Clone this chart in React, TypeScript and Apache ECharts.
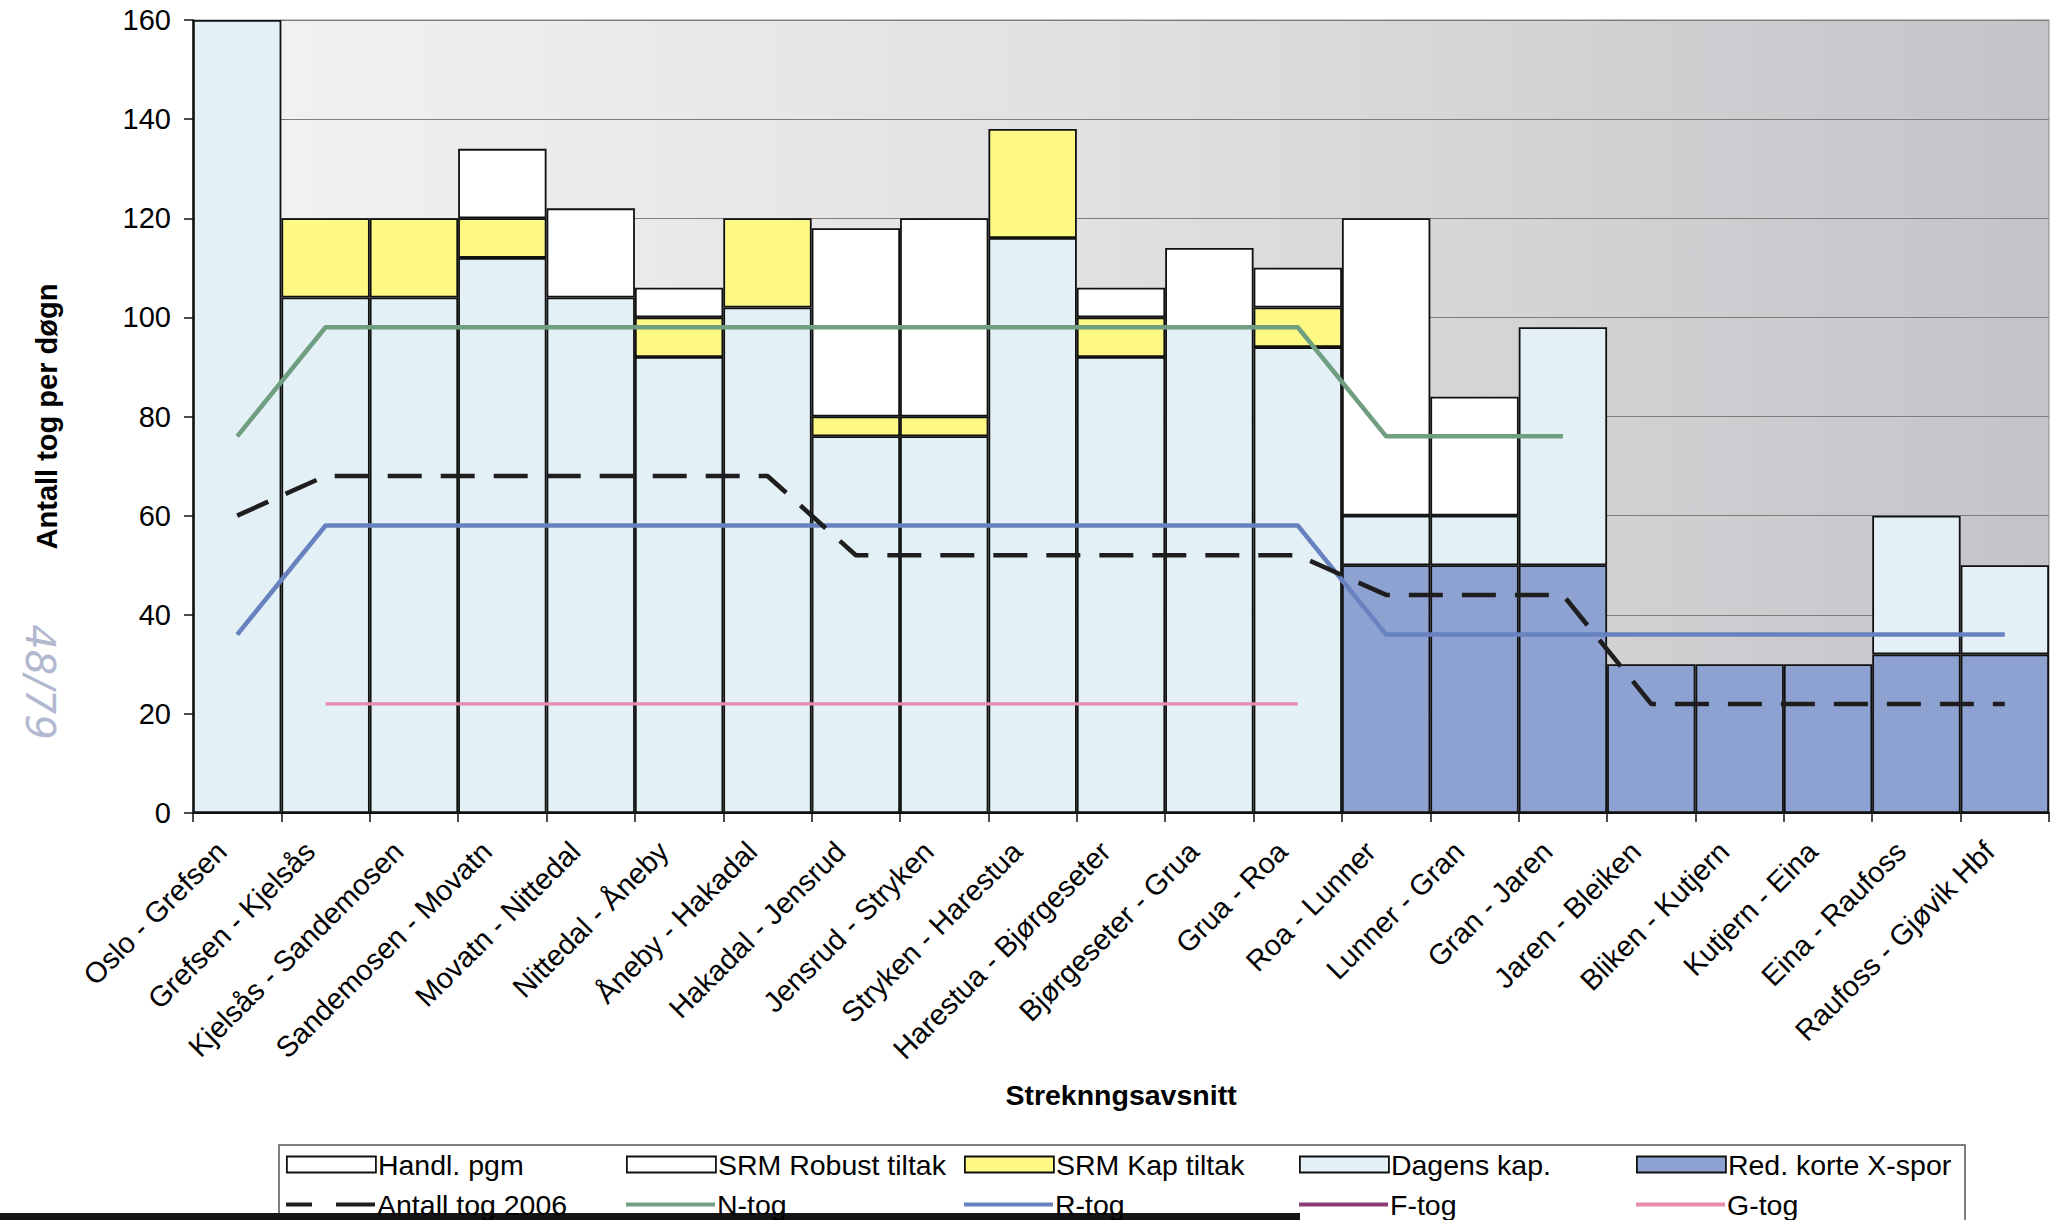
import React, { useEffect, useRef } from "react";
import * as echarts from "echarts";

// Strekningsavsnitt along the line, from Oslo northwards
const categories = [
  "Oslo - Grefsen",
  "Grefsen - Kjelsås",
  "Kjelsås - Sandemosen",
  "Sandemosen - Movatn",
  "Movatn - Nittedal",
  "Nittedal - Åneby",
  "Åneby - Hakadal",
  "Hakadal - Jensrud",
  "Jensrud - Stryken",
  "Stryken - Harestua",
  "Harestua - Bjørgeseter",
  "Bjørgeseter - Grua",
  "Grua - Roa",
  "Roa - Lunner",
  "Lunner - Gran",
  "Gran - Jaren",
  "Jaren - Bleiken",
  "Bliken - Kutjern",
  "Kutjern - Eina",
  "Eina - Raufoss",
  "Raufoss - Gjøvik Hbf",
];

// Stacked capacity segments (trains per day), bottom to top
const redKorteXspor = [null, null, null, null, null, null, null, null, null, null, null, null, null, 50, 50, 50, 30, 30, 30, 32, 32];
const dagensKap = [160, 104, 104, 112, 104, 92, 102, 76, 76, 116, 92, 98, 94, 10, 10, 48, null, null, null, 28, 18];
const srmKapTiltak = [null, 16, 16, 8, null, 8, 18, 4, 4, 22, 8, null, 8, null, null, null, null, null, null, null, null];
const srmRobustTiltak = [null, null, null, 14, 18, 6, null, 38, 40, null, 6, 16, 8, null, null, null, null, null, null, null, null];
const handlPgm = [null, null, null, null, null, null, null, null, null, null, null, null, null, 60, 24, null, null, null, null, null, null];

// Train counts per day
const antallTog2006 = [60, 68, 68, 68, 68, 68, 68, 52, 52, 52, 52, 52, 52, 44, 44, 44, 22, 22, 22, 22, 22];
const nTog = [76, 98, 98, 98, 98, 98, 98, 98, 98, 98, 98, 98, 98, 76, 76, 76, null, null, null, null, null];
const rTog = [36, 58, 58, 58, 58, 58, 58, 58, 58, 58, 58, 58, 58, 36, 36, 36, 36, 36, 36, 36, 36];
const fTog: (number | null)[] = [];
const gTog = [null, 22, 22, 22, 22, 22, 22, 22, 22, 22, 22, 22, 22, null, null, null, null, null, null, null, null];

const yTicks = { min: 0, max: 160, interval: 20 };

const FONT = '"Liberation Sans", Arial, sans-serif';
const W = 2057;
const H = 1220;

const COLORS = {
  xspor: "#8ea2d2",
  dagens: "#e3f0f6",
  kap: "#fdf984",
  robust: "#ffffff",
  handl: "#ffffff",
  nTog: "#6f9f80",
  rTog: "#6882c0",
  fTog: "#8a3c78",
  gTog: "#e88aae",
  antall: "#1e1e1e",
};

function barSeries(name: string, data: (number | null)[], color: string) {
  return {
    name,
    type: "bar",
    stack: "kap",
    data,
    barCategoryGap: "0%",
    itemStyle: { color, borderColor: "#111", borderWidth: 1.8 },
    emphasis: { disabled: true },
  };
}

function lineSeries(name: string, data: (number | null)[], color: string, width: number, dashed?: boolean) {
  return {
    name,
    type: "line",
    data,
    symbol: "none",
    showSymbol: false,
    connectNulls: false,
    z: 5,
    lineStyle: dashed
      ? { color, width, type: [34, 19] as number[], cap: "butt" }
      : { color, width },
    itemStyle: { color },
    emphasis: { disabled: true },
  };
}

const legendText = { fontFamily: FONT, fontSize: 28.5, color: "#000", padding: [0, 0, 0, -3] };

function barLegend(name: string, left: number, top: number) {
  return {
    data: [name],
    left,
    top,
    padding: 0,
    icon: "rect",
    itemWidth: 89,
    itemHeight: 16,
    selectedMode: false,
    itemStyle: { borderColor: "#111", borderWidth: 1.8 },
    textStyle: legendText,
  };
}

function lineLegend(name: string, left: number, top: number, color: string, icon: string) {
  return {
    data: [name],
    left,
    top,
    padding: 0,
    icon,
    itemWidth: 89,
    itemHeight: 4,
    selectedMode: false,
    itemStyle: { color, borderWidth: 0 },
    textStyle: legendText,
  };
}

const legendCols = [286, 626, 964, 1299, 1636];
const legendRows = [1150, 1190];

export default function App() {
  const ref = useRef<HTMLDivElement>(null);

  useEffect(() => {
    if (!ref.current) return;
    const chart = echarts.init(ref.current, null, { renderer: "svg" });

    const option: any = {
      animation: false,
      backgroundColor: "#ffffff",
      textStyle: { fontFamily: FONT },
      grid: {
        left: 193,
        right: 8,
        top: 20,
        bottom: 407,
        show: true,
        borderColor: "#8a8a8a",
        borderWidth: 1,
        backgroundColor: new echarts.graphic.LinearGradient(0, 0, 1, 0, [
          { offset: 0, color: "#f3f3f3" },
          { offset: 0.5, color: "#e0e0e2" },
          { offset: 1, color: "#c4c4c8" },
        ]),
      },
      xAxis: {
        type: "category",
        data: categories,
        boundaryGap: true,
        name: "Streknngsavsnitt",
        nameLocation: "middle",
        nameGap: 267,
        nameTextStyle: { fontFamily: FONT, fontSize: 28.5, fontWeight: "bold", color: "#000" },
        axisLine: { show: true, lineStyle: { color: "#111", width: 2 } },
        axisTick: { show: true, length: 9, lineStyle: { color: "#111", width: 1.5 } },
        axisLabel: {
          rotate: 45,
          interval: 0,
          margin: 18,
          padding: [0, 22, 0, 0],
          fontFamily: FONT,
          fontSize: 29,
          color: "#000",
        },
        splitLine: { show: false },
      },
      yAxis: {
        type: "value",
        min: yTicks.min,
        max: yTicks.max,
        interval: yTicks.interval,
        name: "Antall tog per døgn",
        nameLocation: "middle",
        nameRotate: 90,
        nameGap: 132,
        nameTextStyle: { fontFamily: FONT, fontSize: 29, fontWeight: "bold", color: "#000" },
        axisLine: { show: true, lineStyle: { color: "#111", width: 1.5 } },
        axisTick: { show: true, length: 9, lineStyle: { color: "#111", width: 1.5 } },
        axisLabel: { margin: 22, fontFamily: FONT, fontSize: 29, color: "#000" },
        splitLine: { show: true, lineStyle: { color: "#7d7d7d", width: 1.2 } },
      },
      legend: [
        barLegend("Handl. pgm", legendCols[0], legendRows[0]),
        barLegend("SRM Robust tiltak", legendCols[1], legendRows[0]),
        barLegend("SRM Kap tiltak", legendCols[2], legendRows[0]),
        barLegend("Dagens kap.", legendCols[3], legendRows[0]),
        barLegend("Red. korte X-spor", legendCols[4], legendRows[0]),
        lineLegend("Antall tog 2006", legendCols[0], legendRows[1], COLORS.antall, "path://M0,0H26V4H0Z M50,0H89V4H50Z"),
        lineLegend("N-tog", legendCols[1], legendRows[1], COLORS.nTog, "rect"),
        lineLegend("R-tog", legendCols[2], legendRows[1], COLORS.rTog, "rect"),
        lineLegend("F-tog", legendCols[3], legendRows[1], COLORS.fTog, "rect"),
        lineLegend("G-tog", legendCols[4], legendRows[1], COLORS.gTog, "rect"),
      ],
      series: [
        barSeries("Red. korte X-spor", redKorteXspor, COLORS.xspor),
        barSeries("Dagens kap.", dagensKap, COLORS.dagens),
        barSeries("SRM Kap tiltak", srmKapTiltak, COLORS.kap),
        barSeries("SRM Robust tiltak", srmRobustTiltak, COLORS.robust),
        barSeries("Handl. pgm", handlPgm, COLORS.handl),
        lineSeries("N-tog", nTog, COLORS.nTog, 4.5),
        lineSeries("R-tog", rTog, COLORS.rTog, 4.5),
        lineSeries("F-tog", fTog, COLORS.fTog, 4),
        lineSeries("G-tog", gTog, COLORS.gTog, 3.3),
        lineSeries("Antall tog 2006", antallTog2006, COLORS.antall, 4.6, true),
      ],
      graphic: [
        {
          type: "rect",
          silent: true,
          shape: { x: 279, y: 1145, width: 1686, height: 120 },
          style: { fill: "none", stroke: "#555", lineWidth: 1.5 },
          z: 1,
        },
        {
          type: "rect",
          silent: true,
          shape: { x: 0, y: 1213, width: 1300, height: 8 },
          style: { fill: "#151515" },
          z: 1,
        },
        {
          type: "text",
          silent: true,
          x: 40,
          y: 682,
          rotation: -Math.PI / 2,
          style: {
            text: "48/79",
            fontFamily: '"DejaVu Sans", sans-serif',
            fontSize: 40,
            fontStyle: "italic",
            fontWeight: "lighter",
            fill: "#b2b9cf",
            align: "center",
            verticalAlign: "middle",
            textAlign: "center",
            textVerticalAlign: "middle",
          },
          z: 1,
        },
      ],
    };

    chart.setOption(option);
    return () => chart.dispose();
  }, []);

  return (
    <div
      ref={ref}
      style={{ position: "fixed", left: 0, top: 0, width: W, height: H, background: "#fff" }}
    />
  );
}
